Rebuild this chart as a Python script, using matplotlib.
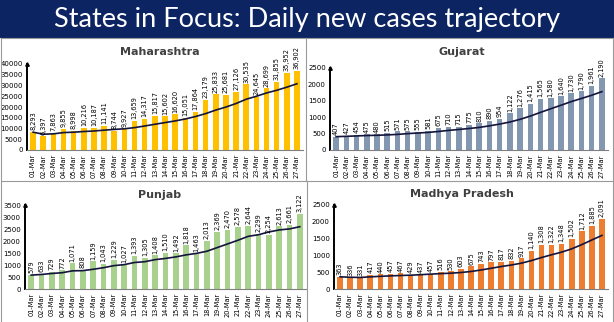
import matplotlib
matplotlib.use("Agg")
import matplotlib.pyplot as plt
import numpy as np
import pandas as pd

dates = ["%02d-Mar" % d for d in range(1, 28)]

maharashtra = [8293, 6397, 7863, 9855, 8998, 10216, 10187, 11141, 8744, 9927,
               13659, 14317, 15817, 15602, 16620, 15051, 17864, 23179, 25833,
               25681, 27126, 30535, 24645, 28699, 31855, 35952, 36902]
gujarat = [407, 427, 454, 475, 480, 515, 571, 575, 555, 581, 675, 710, 715,
           775, 810, 890, 954, 1122, 1276, 1415, 1565, 1580, 1640, 1730, 1790,
           1961, 2190]
punjab = [579, 633, 729, 772, 1071, 808, 1159, 1043, 1229, 1027, 1393, 1305,
          1408, 1510, 1492, 1818, 1463, 2013, 2369, 2470, 2578, 2644, 2299,
          2254, 2613, 2661, 3122]
madhya_pradesh = [363, 336, 331, 417, 440, 457, 467, 429, 437, 457, 516, 530,
                  603, 675, 743, 797, 817, 832, 917, 1140, 1308, 1322, 1348,
                  1502, 1712, 1885, 2091]

W, H = 614, 322
fig = plt.figure(figsize=(W / 100, H / 100), dpi=100)
fig.patch.set_facecolor("white")

# title bar
fig.patches.append(plt.Rectangle((0, 1 - 37 / H), 1, 37 / H, transform=fig.transFigure,
                                 color="#0c2461", zorder=0))
fig.text(0.5, 1 - 19 / H, "States in Focus: Daily new cases trajectory", color="white",
         fontsize=19.5, ha="center", va="center", family="Lato")

# panel separators
def fline(x0, y0, x1, y1):
    fig.add_artist(plt.Line2D([x0 / W, x1 / W], [1 - y0 / H, 1 - y1 / H],
                              color="#9a9a9a", lw=0.8, transform=fig.transFigure))

fline(1, 38, 613, 38)
fline(306, 38, 306, 180)
fline(1, 181, 613, 181)
fline(307, 181, 307, 322)
fline(1, 38, 1, 322)
fline(612.5, 38, 612.5, 322)

panels = [
    ("Maharashtra", maharashtra, "#ffc000", (27, 64, 303, 150), 40000, 5000, (160, 52)),
    ("Gujarat", gujarat, "#8497b0", (330, 68, 608, 150), 2500, 500, (462, 52)),
    ("Punjab", punjab, "#a9d18e", (25, 205, 306, 289), 3500, 500, (160, 195)),
    ("Madhya Pradesh", madhya_pradesh, "#ed7d31", (334, 205, 608, 289), 2500, 500, (462, 194)),
]

for name, vals, col, (l, t, r, b), ymax, step, (tx, ty) in panels:
    ax = fig.add_axes([l / W, 1 - b / H, (r - l) / W, (b - t) / H])
    x = np.arange(len(vals))
    ax.bar(x, vals, width=0.55, color=col, zorder=2)
    trend = pd.Series(vals).rolling(7, min_periods=1).mean()
    ax.plot(x, trend, color="#14143c", lw=1.2, zorder=3)
    for xi, v in zip(x, vals):
        ax.text(xi, v + ymax * 0.02, f"{v:,}", rotation=90, ha="center", va="bottom",
                fontsize=4.8, clip_on=False)
    ax.set_xlim(-0.6, len(vals) - 0.4)
    ax.set_ylim(0, ymax)
    ax.set_yticks(np.arange(0, ymax + 1, step))
    ax.set_xticks(x)
    ax.set_xticklabels(dates, rotation=90, fontsize=4.8)
    ax.tick_params(axis="y", labelsize=5, length=0, pad=3)
    ax.tick_params(axis="x", length=0, pad=3)
    for s in ["top", "right"]:
        ax.spines[s].set_visible(False)
    ax.spines["left"].set_linewidth(1.4)
    ax.spines["bottom"].set_color("#7f7f7f")
    ax.plot([0], [1], marker="^", color="black", markersize=2.5, transform=ax.transAxes,
            clip_on=False)
    ax.patch.set_alpha(0)
    fig.text(tx / W, 1 - ty / H, name, fontsize=8, fontweight="bold", color="#404040",
             ha="center", va="center")

fig.savefig("out.png", dpi=100)
